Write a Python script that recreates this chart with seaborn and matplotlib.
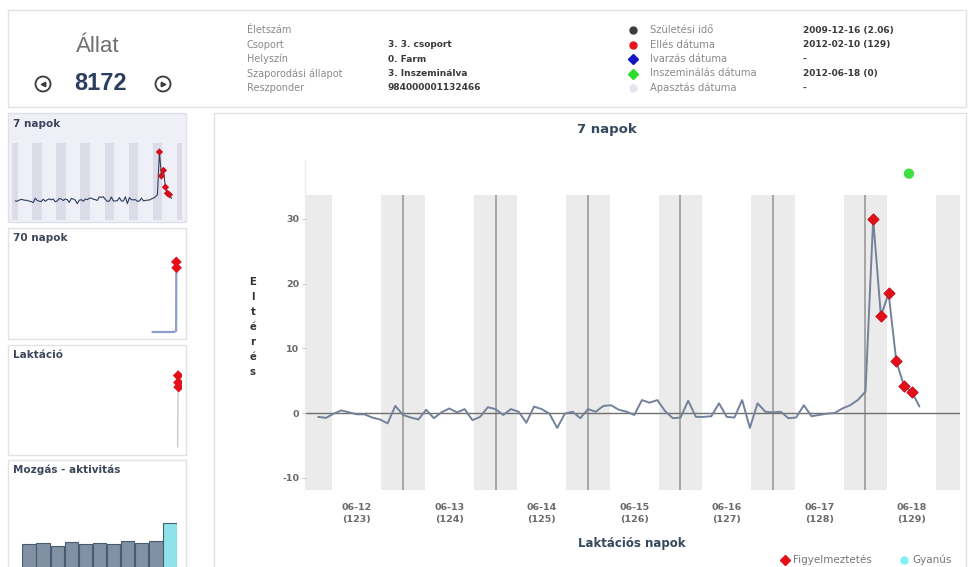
import numpy as np
import seaborn as sns
from matplotlib import pyplot as plt
from matplotlib.patches import Rectangle, Circle
from matplotlib.lines import Line2D

W, H = 970, 567

# fő grafikon: eltérés 2 óránként, 06-12 02:00-tól (órák 06-12 00:00-tól)
ora = np.arange(2, 160, 2)
elteres = [
    -0.6, -0.75, -0.1, 0.4, 0.1, -0.2, -0.2, -0.7, -1.0, -1.6,
    1.1, -0.3, -0.7, -1.0, 0.5, -0.8, 0.1, 0.7, 0.1, 0.6,
    -1.1, -0.6, 0.9, 0.6, -0.3, 0.6, 0.2, -1.5, 1.0, 0.6,
    -0.1, -2.3, -0.1, 0.2, -0.8, 0.6, 0.2, 1.1, 1.2, 0.5,
    0.2, -0.3, 2.0, 1.6, 2.0, 0.3, -0.8, -0.7, 1.9, -0.6,
    -0.6, -0.5, 1.5, -0.6, -0.7, 2.0, -2.3, 1.5, 0.2, 0.1,
    0.2, -0.8, -0.7, 1.2, -0.5, -0.3, -0.1, 0.0, 0.7, 1.2,
    2.0, 3.3, 30.0, 15.0, 18.5, 8.0, 4.2, 3.3, 1.0]
figyelmeztetes_idx = [72, 73, 74, 75, 76, 77]
inszem_nap = 18.47
inszem_ertek = 37.0

nap_tick_pos = [12.5, 13.5, 14.5, 15.5, 16.5, 17.5, 18.5]
nap_labels = ['06-12\n(123)', '06-13\n(124)', '06-14\n(125)', '06-15\n(126)',
              '06-16\n(127)', '06-17\n(128)', '06-18\n(129)']
ejfelek = [13, 14, 15, 16, 17, 18]
ejszakak = [12, 13, 14, 15, 16, 17, 18, 19]

# kis panelek
napok70_x = [119, 120, 121, 122, 123, 124, 125, 126, 127, 128, 129, 129.1, 129.2]
napok70_y = [0, 0, 0, 0, 0, 0, 0, 0, 0, 0, 0.5, 30, 27.5]
lakt_x = [128.6, 129.0, 129.2, 129.4]
lakt_y = [0, 31, 28, 26]
aktivitas = [46, 47, 44, 48, 46, 47, 46, 49, 47, 49, 67]
akt_szinek = ['#7b8fa9'] * 10 + ['#7ef0f8']

info_labels = ['Életszám', 'Csoport', 'Helyszín', 'Szaporodási állapot', 'Reszponder']
info_values = ['', '3. 3. csoport', '0. Farm', '3. Inszeminálva', '984000001132466']
datum_labels = ['Születési idő', 'Ellés dátuma', 'Ivarzás dátuma',
                'Inszeminálás dátuma', 'Apasztás dátuma']
datum_values = ['2009-12-16 (2.06)', '2012-02-10 (129)', '-', '2012-06-18 (0)', '-']
datum_markers = [('o', '#3c3c3c'), ('o', '#e8141c'), ('D', '#1414c8'),
                 ('D', '#2bdd2b'), ('o', '#e2e6ee')]
sor_y = [30, 44.5, 59, 73.5, 88]

ido = 12 + ora / 24
elteres = np.array(elteres)


def rect(x0, y0, x1, y1):
    return [x0 / W, 1 - y1 / H, (x1 - x0) / W, (y1 - y0) / H]


sns.set_style("white")
plt.rcParams['font.family'] = ['DejaVu Sans']
plt.rcParams['axes.unicode_minus'] = False

fig = plt.figure(figsize=(9.7, 5.67), dpi=100)
bg = fig.add_axes([0, 0, 1, 1])
bg.set_xlim(0, W)
bg.set_ylim(H, 0)
bg.axis('off')


def box(x0, y0, x1, y1, fc='white', ec='#e2e2e2'):
    bg.add_patch(Rectangle((x0, y0), x1 - x0, y1 - y0, facecolor=fc, edgecolor=ec, lw=1))


# fejléc
box(8, 10, 966, 107)
bg.text(98, 47, 'Állat', fontsize=16, color='#707070', ha='center', va='center',
        family='Liberation Sans')
bg.text(101, 84, '8172', fontsize=17, fontweight='bold', color='#2c3e5e',
        ha='center', va='center', family='Liberation Sans')
for cx, mk in [(43, '<'), (163, '>')]:
    bg.add_patch(Circle((cx, 84), 7.5, fill=False, ec='#3a3a3a', lw=1.3))
    bg.plot(cx, 84, marker=mk, ms=3.2, color='#3a3a3a')

for y, lab, val in zip(sor_y, info_labels, info_values):
    bg.text(247, y, lab, fontsize=7, color='#8a8a8a', va='center')
    bg.text(388, y, val, fontsize=6.5, color='#3a3a3a', va='center', fontweight='bold')
for y, lab, val, (mk, c) in zip(sor_y, datum_labels, datum_values, datum_markers):
    bg.plot(633, y, marker=mk, ms=5, color=c, ls='')
    bg.text(650, y, lab, fontsize=7.2, color='#8a8a8a', va='center')
    bg.text(803, y, val, fontsize=6.5, color='#3a3a3a', va='center', fontweight='bold')

# bal oldali panelek
box(8, 113, 186, 222, fc='#efeff8', ec='#e0e0ea')
box(8, 228, 186, 339)
box(8, 345, 186, 455)
box(8, 460, 186, 600)
box(214, 113, 966, 600)
for y, t in [(124, '7 napok'), (238, '70 napok'), (355, 'Laktáció'), (470, 'Mozgás - aktivitás')]:
    bg.text(13, y, t, fontsize=7.5, fontweight='bold', color='#3d4659', va='center')

# fő grafikon
ax = fig.add_axes(rect(306, 195, 960, 490))
ax.set_facecolor('none')
for m in ejszakak:
    ax.axvspan(m - 0.235, m + 0.235, color='#ebebeb', lw=0, zorder=0)
for m in ejfelek:
    ax.axvline(m, color='#9a9a9a', lw=1.2, zorder=1)
ax.axhline(0, color='#707070', lw=1, zorder=2)
sns.lineplot(x=ido, y=elteres, ax=ax, color='#74819b', lw=1.4, zorder=3)
sns.scatterplot(x=ido[figyelmeztetes_idx], y=elteres[figyelmeztetes_idx], ax=ax,
                marker='D', color='#e3101a', s=34, edgecolor='#c40010', lw=0.5, zorder=4)
sns.scatterplot(x=[inszem_nap], y=[inszem_ertek], ax=ax, color='#3ee03e', s=55,
                edgecolor='none', clip_on=False, zorder=5)
ax.set_xlim(11.951, 19.022)
ax.set_ylim(-11.9, 33.7)
ax.set_xticks(nap_tick_pos)
ax.set_xticklabels(nap_labels, fontsize=6.8, fontweight='bold', color='#6a6a6a', linespacing=1.45)
ax.set_yticks([-10, 0, 10, 20, 30])
ax.tick_params(axis='x', length=0, pad=9)
ax.tick_params(axis='y', length=3, color='#cfcfcf', pad=2, labelsize=6.8, labelcolor='#6a6a6a', left=True)
for lab in ax.get_yticklabels():
    lab.set_fontweight('bold')
sns.despine(ax=ax, left=True, bottom=True)
ax.set_xlabel('')
ax.set_ylabel('')

bg.plot([305, 305], [160, 490], color='#eeeeee', lw=1)
bg.text(607, 130, '7 napok', fontsize=9.5, fontweight='bold', color='#34495e', ha='center', va='center')
bg.text(632, 544, 'Laktációs napok', fontsize=8.5, fontweight='bold', color='#34495e',
        ha='center', va='center')
for k, ch in enumerate('Eltérés'):
    bg.text(253, 282 + 15 * k, ch, fontsize=7.3, fontweight='bold', color='#333333', ha='center', va='center')

handles = [Line2D([], [], marker='D', color='#e3101a', ls='', ms=5),
           Line2D([], [], marker='o', color='#7ef0f6', ls='', ms=5)]
fig.legend(handles, ['Figyelmeztetés', 'Gyanús'], loc='center right',
           bbox_to_anchor=(952 / W, 1 - 560 / H), ncol=2, frameon=False, fontsize=7.5,
           labelcolor='#777777', handletextpad=0.3, columnspacing=2.6, handlelength=1,
           borderaxespad=0, borderpad=0)

# 7 napok mini
ax1 = fig.add_axes(rect(12, 143, 182, 220))
for m in ejszakak:
    ax1.axvspan(m - 0.2, m + 0.2, color='#dcdce8', lw=0, zorder=0)
sns.lineplot(x=ido, y=elteres, ax=ax1, color='#2f3d5c', lw=0.8, zorder=2)
sns.scatterplot(x=ido[figyelmeztetes_idx], y=elteres[figyelmeztetes_idx], ax=ax1,
                marker='D', color='#d0101a', s=14, edgecolor='none', zorder=3)
ax1.set_xlim(11.951, 19.022)
ax1.set_ylim(-12.5, 35.6)
ax1.axis('off')

# 70 napok mini
ax2 = fig.add_axes(rect(12, 250, 182, 334))
sns.lineplot(x=napok70_x, y=napok70_y, ax=ax2, color='#8f9dca', lw=1.6)
n70 = [i for i, v in enumerate(napok70_y) if v > 25]
sns.scatterplot(x=[napok70_x[i] for i in n70], y=[napok70_y[i] for i in n70], ax=ax2,
                marker='D', color='#e3101a', s=30, edgecolor='none', zorder=3)
ax2.set_xlim(59.5, 131.5)
ax2.set_ylim(-0.86, 35.1)
ax2.axis('off')

# laktáció mini
ax3 = fig.add_axes(rect(12, 368, 182, 450))
sns.lineplot(x=lakt_x, y=lakt_y, ax=ax3, color='#c8cad6', lw=1)
lk = [i for i, v in enumerate(lakt_y) if v > 25]
sns.scatterplot(x=[lakt_x[i] for i in lk], y=[lakt_y[i] for i in lk], ax=ax3,
                marker='D', color='#e3101a', s=30, edgecolor='none', zorder=3)
ax3.set_xlim(0, 132)
ax3.set_ylim(-1.3, 34.3)
ax3.axis('off')

# mozgás - aktivitás
ax4 = fig.add_axes(rect(22, 480, 177, 590))
sns.barplot(x=list(range(len(aktivitas))), y=aktivitas, hue=list(range(len(aktivitas))),
            palette=akt_szinek, legend=False, width=0.95, edgecolor='#4a5a70', lw=0.8, ax=ax4)
ax4.set_ylim(0, 110)
ax4.axis('off')

fig.savefig('out.png', dpi=100)
